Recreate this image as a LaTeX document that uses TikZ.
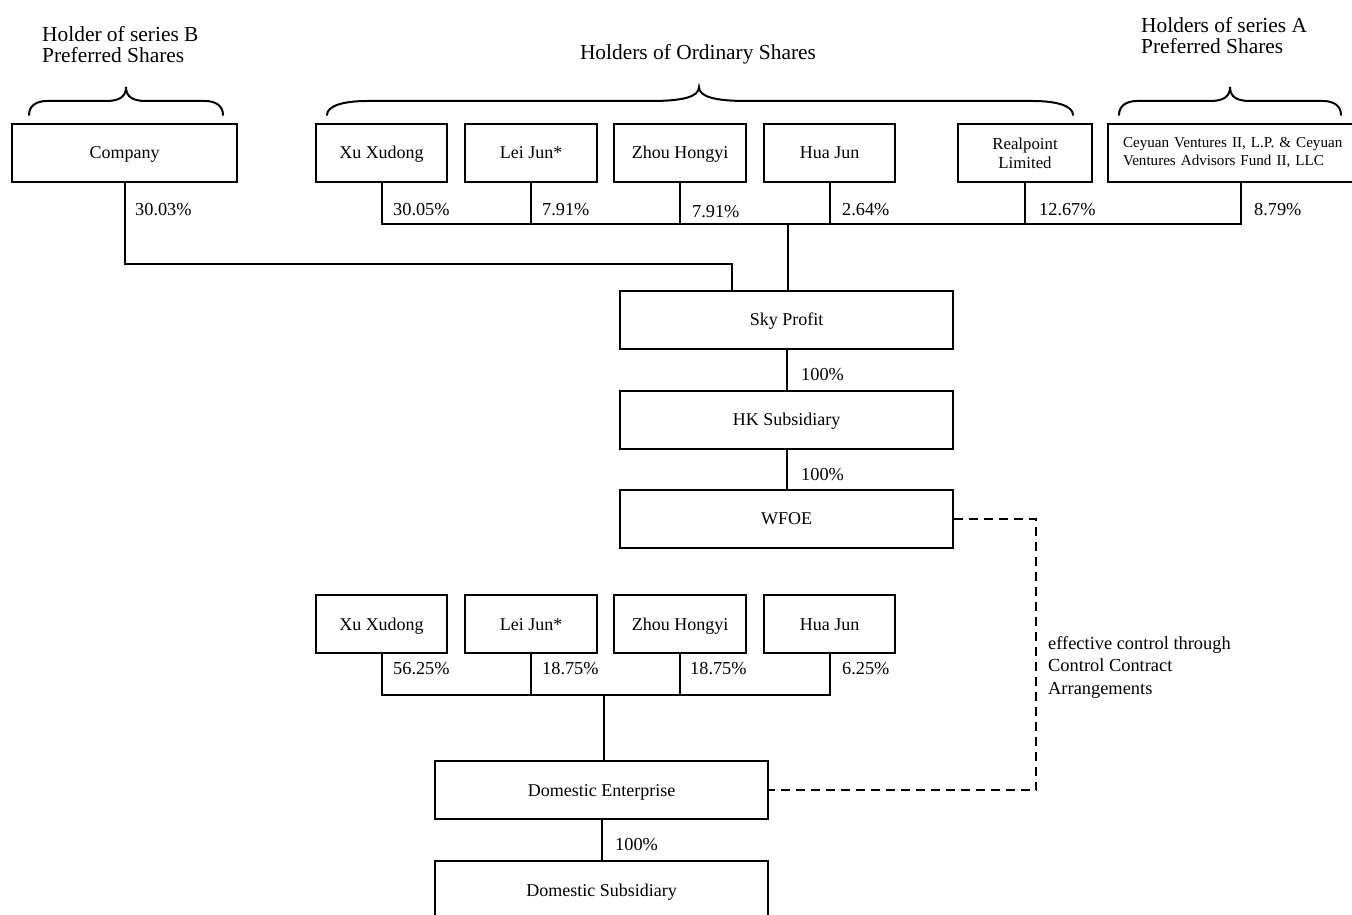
\documentclass[tikz,border=0pt]{standalone}
\usepackage{fontspec}
\setmainfont{Liberation Serif}
\newcommand\mybrace[5]{%
 \draw[brc] (#1,115) .. controls (#1,106) and (#1+#4*0.4,101) .. (#1+#4,101) -- (#2-#5,101) .. controls (#2-#5*0.35,101) and (#2,97) .. (#2,87) .. controls (#2,97) and (#2+#5*0.35,101) .. (#2+#5,101) -- (#3-#4,101) .. controls (#3-#4*0.4,101) and (#3,106) .. (#3,115);}
\begin{document}
\begin{tikzpicture}[x=1pt,y=-1pt,
  box/.style={draw, line width=2pt, minimum height=58pt, inner sep=0pt, font=\fontsize{18}{21}\selectfont},
  one/.style={text height=12pt, text depth=0pt},
  pct/.style={anchor=west, inner sep=0pt, font=\fontsize{18.3}{21}\selectfont},
  ln/.style={line width=2pt},
  dsh/.style={line width=2pt, dash pattern=on 9pt off 6pt},
  hdr/.style={inner sep=0pt, align=left, font=\fontsize{21.4}{21}\selectfont},
  brc/.style={line width=2pt, line cap=round}]
\useasboundingbox (0,0) rectangle (1352,915);
\clip (0,0) rectangle (1352,915);

% headers
\node[hdr, anchor=north west] (hB) at (42,26) {Holder of series B\\Preferred Shares};
\node[hdr, anchor=base] (hO) at (698,60) {Holders of Ordinary Shares};
\node[hdr, anchor=north west] (hA) at (1141,17) {Holders of series A\\Preferred Shares};

% braces
\mybrace{29}{126}{223}{18}{20}
\mybrace{327}{699}{1073}{40}{48}
\mybrace{1119}{1230}{1341}{18}{20}

% top row
\node[box, one, minimum width=225pt] (comp) at (124.5,153) {Company};
\node[box, one, minimum width=131pt] (xu1) at (381.5,153) {Xu Xudong};
\node[box, one, minimum width=132pt] (lei1) at (531,153) {Lei Jun*};
\node[box, one, minimum width=132pt] (zhou1) at (680,153) {Zhou Hongyi};
\node[box, one, minimum width=131pt] (hua1) at (829.5,153) {Hua Jun};
\node[box, minimum width=134pt, align=center, font=\fontsize{16.8}{19}\selectfont] (real) at (1025,153) {Realpoint\\Limited};
\node[box, minimum width=266pt, text width=236pt, inner xsep=15pt, align=left, font=\fontsize{15.1}{18}\selectfont] (cey) at (1241,153) {Ceyuan Ventures II, L.P. \& Ceyuan\\Ventures Advisors Fund II, LLC};

% middle chain
\node[box, one, minimum width=333pt] (sky) at (786.5,319.5) {Sky Profit};
\node[box, one, minimum width=333pt] (hk) at (786.5,419.5) {HK Subsidiary};
\node[box, one, minimum width=333pt] (wfoe) at (786.5,518.7) {WFOE};

% lower row
\node[box, one, minimum width=131pt] (xu2) at (381.5,624) {Xu Xudong};
\node[box, one, minimum width=132pt] (lei2) at (531,624) {Lei Jun*};
\node[box, one, minimum width=132pt] (zhou2) at (680,624) {Zhou Hongyi};
\node[box, one, minimum width=131pt] (hua2) at (829.5,624) {Hua Jun};
\node[box, one, minimum width=333pt] (de) at (601.5,790.3) {Domestic Enterprise};
\node[box, one, minimum width=333pt] (ds) at (601.5,890) {Domestic Subsidiary};

% top connectors
\coordinate (bus1) at (0,224);
\draw[ln] (xu1.south) |- (cey.south |- bus1) -- (cey.south);
\draw[ln] (lei1.south) -- (lei1.south |- bus1);
\draw[ln] (zhou1.south) -- (zhou1.south |- bus1);
\draw[ln] (hua1.south) -- (hua1.south |- bus1);
\draw[ln] (real.south) -- (real.south |- bus1);
\coordinate (busC) at (788,224);
\draw[ln] (busC) -- (busC |- sky.north);
\coordinate (cj) at (732,264);
\draw[ln] (comp.south) |- (cj) -- (cj |- sky.north);
\draw[ln] (sky.south) -- (hk.north);
\draw[ln] (hk.south) -- (wfoe.north);

% lower connectors
\coordinate (bus2) at (0,695);
\draw[ln] (xu2.south) |- (hua2.south |- bus2) -- (hua2.south);
\draw[ln] (lei2.south) -- (lei2.south |- bus2);
\draw[ln] (zhou2.south) -- (zhou2.south |- bus2);
\coordinate (busD) at (604,695);
\draw[ln] (busD) -- (busD |- de.north);
\draw[ln] (de.south) -- (ds.north);

% dashed control
\coordinate (dc) at (1036,0);
\draw[dsh] (wfoe.east) -- (wfoe.east -| dc) |- (de.east);
\node[hdr, anchor=north west, font=\fontsize{18.4}{22.5}\selectfont] (ctl) at (1048,636) {effective control through\\Control Contract\\Arrangements};

% percentages
\node[pct] (p1) at (135,210) {30.03\%};
\node[pct] (p2) at (393,210) {30.05\%};
\node[pct] (p3) at (542,210) {7.91\%};
\node[pct] (p4) at (692,212) {7.91\%};
\node[pct] (p5) at (842,210) {2.64\%};
\node[pct] (p6) at (1039,210) {12.67\%};
\node[pct] (p7) at (1254,210) {8.79\%};
\node[pct] (p8) at (801,375) {100\%};
\node[pct] (p9) at (801,475) {100\%};
\node[pct] (q1) at (393,669) {56.25\%};
\node[pct] (q2) at (542,669) {18.75\%};
\node[pct] (q3) at (690,669) {18.75\%};
\node[pct] (q4) at (842,669) {6.25\%};
\node[pct] (q5) at (615,845) {100\%};
\end{tikzpicture}
\end{document}
